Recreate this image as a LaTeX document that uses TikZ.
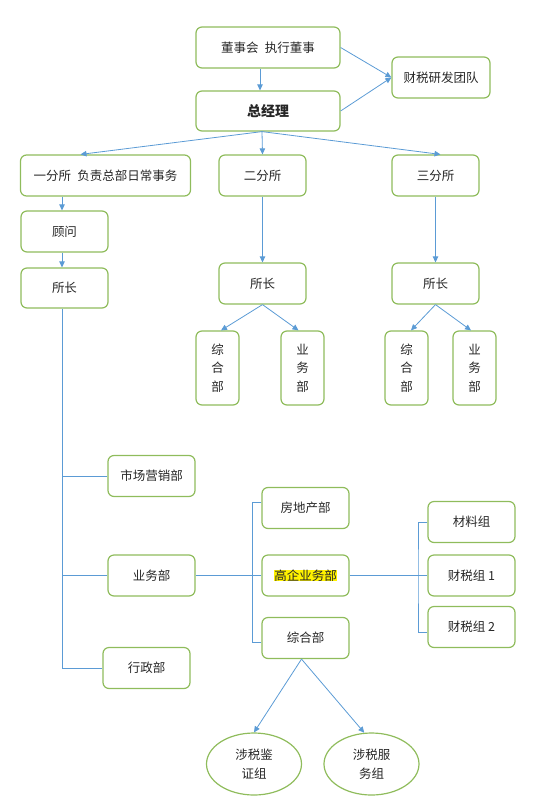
\documentclass[tikz,border=0pt]{standalone}
\usepackage{fontspec}
\setmainfont{Noto Sans CJK SC}
\usepackage{xcolor}
\usetikzlibrary{shapes.geometric,arrows.meta}

\definecolor{boxgreen}{HTML}{8FBC5C}
\definecolor{lineblue}{HTML}{5B9BD5}
\definecolor{textgray}{HTML}{262626}

\begin{document}
\begin{tikzpicture}[x=1pt, y=-1pt,
		box/.style={draw=boxgreen, line width=1.2pt, rounded corners=6pt, inner sep=0pt,
			minimum width=87pt, minimum height=41pt, text=textgray, font=\fontsize{12.5}{15}\selectfont},
		vbox/.style={box, minimum width=43pt, minimum height=74pt, align=center,
			font=\fontsize{12.5}{18.5}\selectfont},
		oval/.style={draw=boxgreen, line width=1.2pt, ellipse, minimum width=95pt, minimum height=62pt,
			inner sep=0pt, align=center, text=textgray, font=\fontsize{12.5}{19}\selectfont},
		arr/.style={draw=lineblue, line width=0.8pt, -{Triangle[length=6pt, width=5.5pt]}},
		link/.style={draw=lineblue, line width=0.8pt}]
		\useasboundingbox (0,0) rectangle (544,812);
		% top
		\node[box, minimum width=144pt] (board) at (268,47.5) {董事会\hspace{0.5em}执行董事};
		\node[box, minimum width=144pt, minimum height=40pt, font=\fontsize{14}{16}\selectfont\bfseries] (gm) at (268,111) {总经理};
		\node[box, minimum width=98pt] (rnd) at (441,77.5) {财税研发团队};
		\draw[arr] ([xshift=-8pt]board.south) -- ([xshift=-8pt]gm.north);
		\draw[arr] (board.east) -- (rnd.west);
		\draw[arr] (gm.east) -- (rnd.west);
		% branches
		\node[box, minimum width=170pt] (br1) at (105.5,175.5) {一分所\hspace{0.5em}负责总部日常事务};
		\node[box] (br2) at (262.5,175.5) {二分所};
		\node[box] (br3) at (435.5,175.5) {三分所};
		\coordinate (gmfoot) at ([xshift=-6pt]gm.south);
		\draw[arr] (gmfoot) -- ([xshift=-25pt]br1.north);
		\draw[arr] (gmfoot) -- (br2.north);
		\draw[arr] (gmfoot) -- ([xshift=5pt]br3.north);
		% first branch
		\node[box] (adv) at (64.5,231.5) {顾问};
		\node[box, minimum height=40pt] (head1) at (64.5,288) {所长};
		\coordinate (trunk) at ([xshift=-2.5pt]head1.south);
		\draw[arr] (br1.south -| trunk) -- (adv.north -| trunk);
		\draw[arr] (adv.south -| trunk) -- (head1.north -| trunk);
		\node[box] (mkt) at (151.5,476) {市场营销部};
		\node[box] (biz) at (151.5,575.5) {业务部};
		\node[box] (adm) at (146.5,668) {行政部};
		\draw[link] (trunk) |- (adm.west);
		\draw[link] (mkt.west) -- (mkt.west -| trunk);
		\draw[link] (biz.west) -- (biz.west -| trunk);
		% second and third branch
		\node[box] (head2) at (262.5,283.5) {所长};
		\node[box] (head3) at (435.5,283.5) {所长};
		\draw[arr] (br2.south) -- (head2.north);
		\draw[arr] (br3.south) -- (head3.north);
		\node[vbox] (gen2) at (217.5,368) {综\\合\\部};
		\node[vbox] (biz2) at (302.5,368) {业\\务\\部};
		\node[vbox] (gen3) at (406.5,368) {综\\合\\部};
		\node[vbox] (biz3) at (474.5,368) {业\\务\\部};
		\draw[arr] (head2.south) -- ([xshift=3.5pt]gen2.north);
		\draw[arr] (head2.south) -- ([xshift=-4pt]biz2.north);
		\draw[arr] (head3.south) -- ([xshift=4.5pt]gen3.north);
		\draw[arr] (head3.south) -- ([xshift=-3.5pt]biz3.north);
		% business department
		\node[box] (estate) at (305.5,508) {房地产部};
		\node[box] (hitech) at (305.5,575.5) {{\setlength{\fboxsep}{0pt}\colorbox{yellow}{高企业务部}}};
		\node[box] (gen) at (305.5,638) {综合部};
		\coordinate (fork1) at (252.5,575.5);
		\draw[link] (biz.east) -- (fork1) -- (hitech.west);
		\draw[link] ([yshift=6pt]estate.west) -| (fork1) |- ([yshift=-4pt]gen.west);
		\node[box] (mat) at (471.5,522) {材料组};
		\node[box] (tax1) at (471.5,575.5) {财税组 1};
		\node[box] (tax2) at (471.5,627) {财税组 2};
		\coordinate (fork2) at (418,575.5);
		\draw[link] (hitech.east) -- (fork2) -- (tax1.west);
		\draw[link] (mat.west) -| (fork2) |- ([yshift=-5.5pt]tax2.west);
		% groups
		\node[oval] (cert) at (254,764) {涉税鉴\\证组};
		\node[oval] (svc) at (371.5,764) {涉税服\\务组};
		\draw[arr] ([xshift=-4pt]gen.south) -- (cert.north);
		\draw[arr] ([xshift=-4pt]gen.south) -- (svc.103);
\end{tikzpicture}
\end{document}
